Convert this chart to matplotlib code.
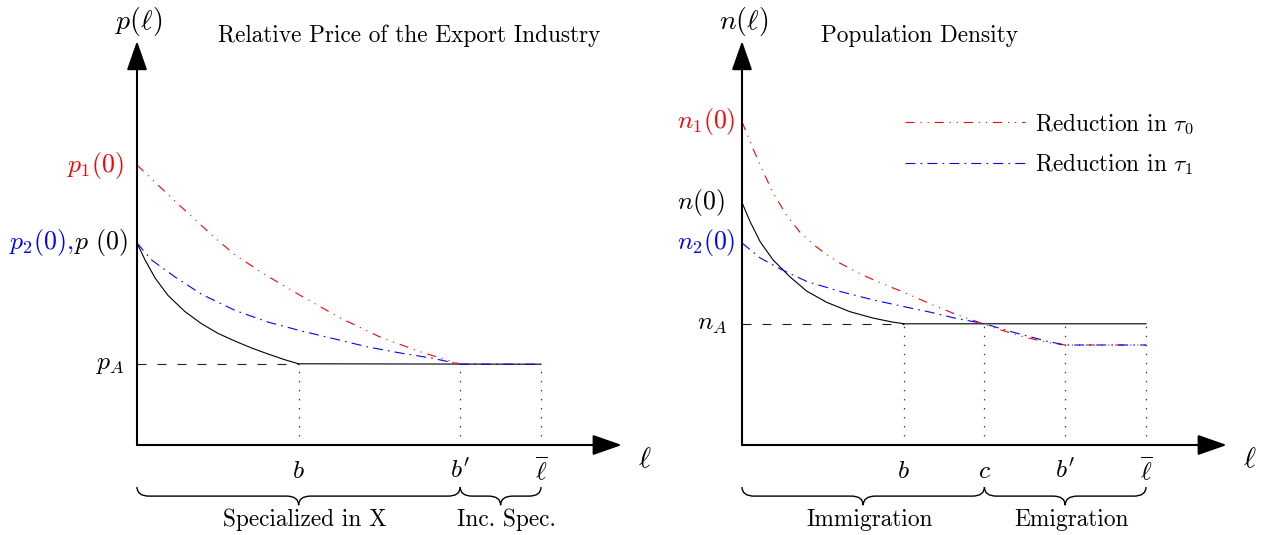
import numpy as np
import matplotlib
matplotlib.use('Agg')
import matplotlib.pyplot as plt
from matplotlib.path import Path
from matplotlib.patches import PathPatch

plt.rcParams['font.family'] = 'cmr10'
plt.rcParams['mathtext.fontset'] = 'cm'
plt.rcParams['axes.formatter.use_mathtext'] = True
plt.rcParams['lines.scale_dashes'] = False

# ---- data (x in units where l-bar = 100) ----
lbar = 100

# left panel: relative price of the export industry
p_ticks = [40, 80, 100]
p_tick_labels = ['$b$', "$b'$", r'$\overline{\ell}$']
p_A = 20
p_black_x = [0, 2, 4.5, 7.7, 11.9, 16, 20.1, 24.3, 28.4, 32.5, 36.6, 40, 100]
p_black_y = [50, 45.8, 41.3, 37.0, 33.0, 30.0, 27.6, 25.7, 24.0, 22.5, 21.1, 20.1, 20]
p_red_x = [0, 10, 18.5, 24.3, 32.5, 40.3, 50, 60, 70, 80]
p_red_y = [69.3, 59.8, 52.0, 47.0, 41.7, 37.1, 31.6, 26.8, 23.1, 20]
p_blue_x = [0, 3.6, 9.4, 16, 24.3, 32.5, 40.8, 50, 57, 65, 73, 80, 100]
p_blue_y = [50, 45.8, 41.6, 37.3, 33.3, 30.4, 28.2, 26.0, 24.3, 22.8, 21.5, 20, 20]
p_braces = [(0, 80, 'Specialized in X'), (80, 100, 'Inc. Spec.')]

# right panel: population density
n_ticks = [40, 60, 80, 100]
n_tick_labels = ['$b$', '$c$', "$b'$", r'$\overline{\ell}$']
n_A = 30
n_black_x = [0, 2, 4.5, 7.7, 11.9, 16, 21, 26.7, 32.5, 37.4, 40.3, 100]
n_black_y = [60, 55.3, 50.3, 45.8, 41.6, 38.1, 35.3, 33.0, 31.4, 30.4, 30, 30]
n_red_x = [0, 2.8, 5.3, 7.8, 11.1, 14.4, 17.7, 21, 24.3, 28.4, 32.5, 36.6, 40,
           46.5, 52.3, 60, 64, 69.6, 75.4, 80, 100]
n_red_y = [80, 73.2, 67.5, 62.2, 56.8, 52.6, 49.6, 47.1, 45.0, 42.8, 40.9, 39.2, 37.8,
           35.0, 32.6, 29.9, 28.5, 26.8, 25.4, 24.75, 24.75]
n_blue_x = [0, 4.5, 9.4, 16, 24.3, 32.5, 40.3, 46.5, 52.3, 60, 67.2, 75.4, 80, 100]
n_blue_y = [50, 46.3, 43.6, 40.5, 38.0, 35.9, 34.2, 32.9, 31.5, 30, 27.9, 25.7, 24.75, 24.75]
n_braces = [(0, 60, 'Immigration'), (60, 100, 'Emigration')]

RED = '#ff0000'
BLUE = '#0000ff'
RED_LS = (0, (6.5, 4.3, 0.8, 4.3, 0.8, 4.3))
BLUE_LS = (0, (7.2, 3.7, 1.2, 3.7))
DASH_LS = (0, (6.5, 7.9))
DOT_LS = (0, (1.0, 5.5))

TXT = 16.8   # plain text size
LAB = 18.5   # math labels on the axes

W, H = 1268, 535
S = 4.04  # pixels per data unit
XLIM = (-34, 128)
YLIM = (-22, 108)

fig = plt.figure(figsize=(W / 100, H / 100), dpi=100)


def make_axes(ox, oy):
    left = (ox + XLIM[0] * S) / W
    width = (XLIM[1] - XLIM[0]) * S / W
    bottom = (H - (oy - YLIM[0] * S)) / H
    height = (YLIM[1] - YLIM[0]) * S / H
    ax = fig.add_axes([left, bottom, width, height])
    ax.set_xlim(*XLIM)
    ax.set_ylim(*YLIM)
    ax.axis('off')
    return ax


def draw_axes_arrows(ax):
    style = dict(arrowstyle='-|>,head_length=1.2,head_width=0.42', mutation_scale=15,
                 lw=1.5, color='black', shrinkA=0, shrinkB=0)
    ax.annotate('', xy=(120, 0), xytext=(0, 0), arrowprops=style, annotation_clip=False)
    ax.annotate('', xy=(0, 100), xytext=(0, 0), arrowprops=style, annotation_clip=False)


def brace(ax, x0, x1, y, h, r=3.0):
    xm = (x0 + x1) / 2
    yh = y - h / 2
    verts = [(x0, y), (x0, yh), (x0 + r, yh),
             (xm - r, yh),
             (xm, yh), (xm, y - h),
             (xm, yh), (xm + r, yh),
             (x1 - r, yh),
             (x1, yh), (x1, y)]
    codes = [Path.MOVETO, Path.CURVE3, Path.CURVE3,
             Path.LINETO,
             Path.CURVE3, Path.CURVE3,
             Path.CURVE3, Path.CURVE3,
             Path.LINETO,
             Path.CURVE3, Path.CURVE3]
    ax.add_patch(PathPatch(Path(verts, codes), fill=False, lw=1.0, color='black',
                           clip_on=False))


def common(ax, ticks, tick_labels, level, braces, ylabel, title, title_x):
    draw_axes_arrows(ax)
    ax.plot([0, ticks[0]], [level, level], color='#222222', lw=0.8, ls=DASH_LS)
    for t in ticks:
        ax.plot([t, t], [0, level], color='#333333', lw=0.9, ls=DOT_LS)
    for t, lab in zip(ticks, tick_labels):
        ax.text(t, -6.4, lab, fontsize=LAB, ha='center', va='center')
    ax.text(125.7, -3.7, r'$\ell$', fontsize=21, ha='center', va='center')
    ax.text(0.5, 104.9, ylabel, fontsize=20, ha='center', va='center')
    ax.text(title_x, 101.2, title, fontsize=TXT, ha='center', va='center')
    for x0, x1, lab in braces:
        brace(ax, x0, x1, -10.4, 4.5)
        ax.text((x0 + x1) / 2 + 1.5, -18.6, lab, fontsize=TXT, ha='center', va='center')


# ---- left panel ----
axL = make_axes(137, 445)
common(axL, p_ticks, p_tick_labels, p_A, p_braces, r'$p(\ell)$',
       'Relative Price of the Export Industry', 67.3)
axL.plot(p_black_x, p_black_y, color='black', lw=0.8)
axL.plot(p_red_x, p_red_y, color=RED, lw=0.8, ls=RED_LS)
axL.plot(p_blue_x, p_blue_y, color=BLUE, lw=0.8, ls=BLUE_LS)
axL.text(-3.2, p_red_y[0], '$p_1(0)$', color=RED, fontsize=LAB, ha='right', va='center')
t0 = axL.text(-2.2, p_black_y[0], r'$p\ (0)$', color='black', fontsize=LAB,
              ha='right', va='center')
axL.annotate('$p_2(0),$', xy=(0, 0.5), xycoords=t0, xytext=(-1, 0),
             textcoords='offset points', color=BLUE, fontsize=LAB, ha='right', va='center')
axL.text(-3.0, p_A, '$p_A$', fontsize=LAB, ha='right', va='center')

# ---- right panel ----
axR = make_axes(742, 445)
common(axR, n_ticks, n_tick_labels, n_A, n_braces, r'$n(\ell)$',
       'Population Density', 44)
axR.plot(n_black_x, n_black_y, color='black', lw=0.8)
axR.plot(n_red_x, n_red_y, color=RED, lw=0.8, ls=RED_LS, label=r'Reduction in $\tau_0$')
axR.plot(n_blue_x, n_blue_y, color=BLUE, lw=0.8, ls=BLUE_LS, label=r'Reduction in $\tau_1$')
axR.text(-1.6, n_red_y[0], '$n_1(0)$', color=RED, fontsize=LAB, ha='right', va='center')
axR.text(-4.2, n_black_y[0], '$n(0)$', color='black', fontsize=LAB, ha='right', va='center')
axR.text(-1.6, n_blue_y[0], '$n_2(0)$', color=BLUE, fontsize=LAB, ha='right', va='center')
axR.text(-3.5, n_A, '$n_A$', fontsize=LAB, ha='right', va='center')
axR.legend(loc='upper left', bbox_to_anchor=(40.3, 82.6), bbox_transform=axR.transData,
           frameon=False, borderpad=0, borderaxespad=0, handlelength=5.15,
           handletextpad=0.43, labelspacing=0.64, prop={'family': 'cmr10', 'size': TXT})

fig.savefig('out.png', dpi=100)
